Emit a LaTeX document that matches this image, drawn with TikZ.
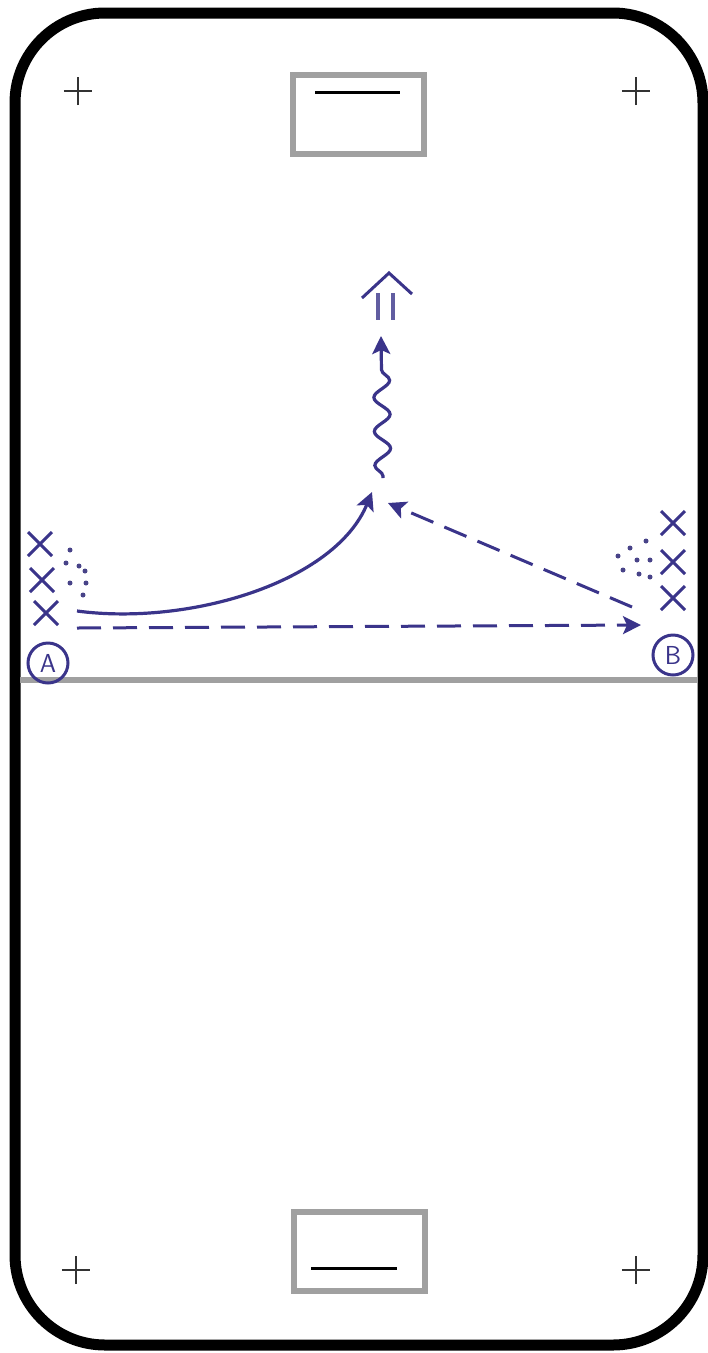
\documentclass[tikz,border=0pt]{standalone}
\usetikzlibrary{arrows.meta,shapes.misc,decorations.pathmorphing}
\definecolor{pen}{RGB}{58,52,138}
\definecolor{goalgray}{RGB}{160,160,160}
\begin{document}
\begin{tikzpicture}[x=1pt,y=-1pt,
  rink/.style={line width=11pt,black,rounded corners=90pt},
  goalbox/.style={draw=goalgray,line width=6pt,minimum width=131pt,minimum height=79pt,inner sep=0pt},
  goalline/.style={line width=3pt,black},
  plusmark/.style={draw=black!80,cross out,rotate=45,line width=1.5pt,minimum size=18.4pt,inner sep=0pt},
  player/.style={draw=pen,cross out,line width=3pt,minimum size=21pt,inner sep=0pt},
  coach/.style={draw=pen,circle,line width=3pt,minimum size=40pt,inner sep=0pt,text=pen,font=\sffamily\fontsize{26}{26}\selectfont},
  puck/.style={fill=pen!80!gray,circle,inner sep=0pt,minimum size=5pt},
  penline/.style={pen,line width=3.2pt},
  tip/.style={-{Stealth[length=18pt,width=18pt,inset=4pt]}},
  dashline/.style={pen,line width=3pt,dash pattern=on 24pt off 12pt}
]
\useasboundingbox (0,0) rectangle (708,1353);
\fill[white] (0,0) rectangle (708,1353);
% rink border
\draw[rink] (15,13) rectangle (703,1345);
% centre line
\draw[goalgray,line width=6pt] (20,680) -- (698,680);
% faceoff plus marks
\node[plusmark] (pa) at (78,91) {};
\node[plusmark] (pb) at (636,91) {};
\node[plusmark] (pc) at (76,1270) {};
\node[plusmark] (pd) at (636,1270) {};
% goals
\node[goalbox] (gtop) at (358.5,114.5) {};
\draw[goalline] (315,92) -- (400,92);
\node[goalbox] (gbot) at (359,1251.5) {};
\draw[goalline] (311,1268) -- (397,1268);
% players left
\node[player] (xl1) at (40,544) {};
\node[player] (xl2) at (42,580) {};
\node[player] (xl3) at (46,613) {};
\node[coach] (ca) at (48,663) {A};
% players right
\node[player] (xr1) at (673,523) {};
\node[player] (xr2) at (673,562) {};
\node[player] (xr3) at (673,598) {};
\node[coach] (cb) at (673,655) {B};
% pucks left
\foreach \q in {(70,550),(66,563),(79,566),(85,571),(70,583),(86,583),(83,595)}{
  \node[puck] at \q {};
}
% pucks right
\foreach \q in {(646,541),(630,548),(618,556),(637,560),(650,560),(623,570),(639,574),(650,577)}{
  \node[puck] at \q {};
}
% key coordinates
\coordinate (s1) at (77,611);
\coordinate (mid) at (372,492);
\coordinate (s2) at (77,628);
\coordinate (e2) at (641,625);
\coordinate (s3) at (632,607);
\coordinate (e3) at (388,503);
\coordinate (w1) at (383,478);
\coordinate (w2) at (381,336);
% solid skate
\draw[penline,tip] (s1) .. controls (190,626) and (335,582) .. (mid);
% dashed pass to B
\draw[dashline,tip] (s2) -- (e2);
% dashed pass back
\draw[dashline,tip] (s3) -- (e3);
% wavy skate with puck
\draw[penline,tip,decorate,decoration={snake,segment length=34pt,amplitude=8pt,post length=18pt,pre length=2pt}] (w1) -- (w2);
% shot symbol
\coordinate (apex) at (389,273);
\draw[pen,line width=3pt] (362,298) -- (apex) -- (412,294);
\draw[pen!80,line width=4pt] (378,293) -- (378,320);
\draw[pen!80,line width=4pt] (393,293) -- (393,320);
\end{tikzpicture}
\end{document}
